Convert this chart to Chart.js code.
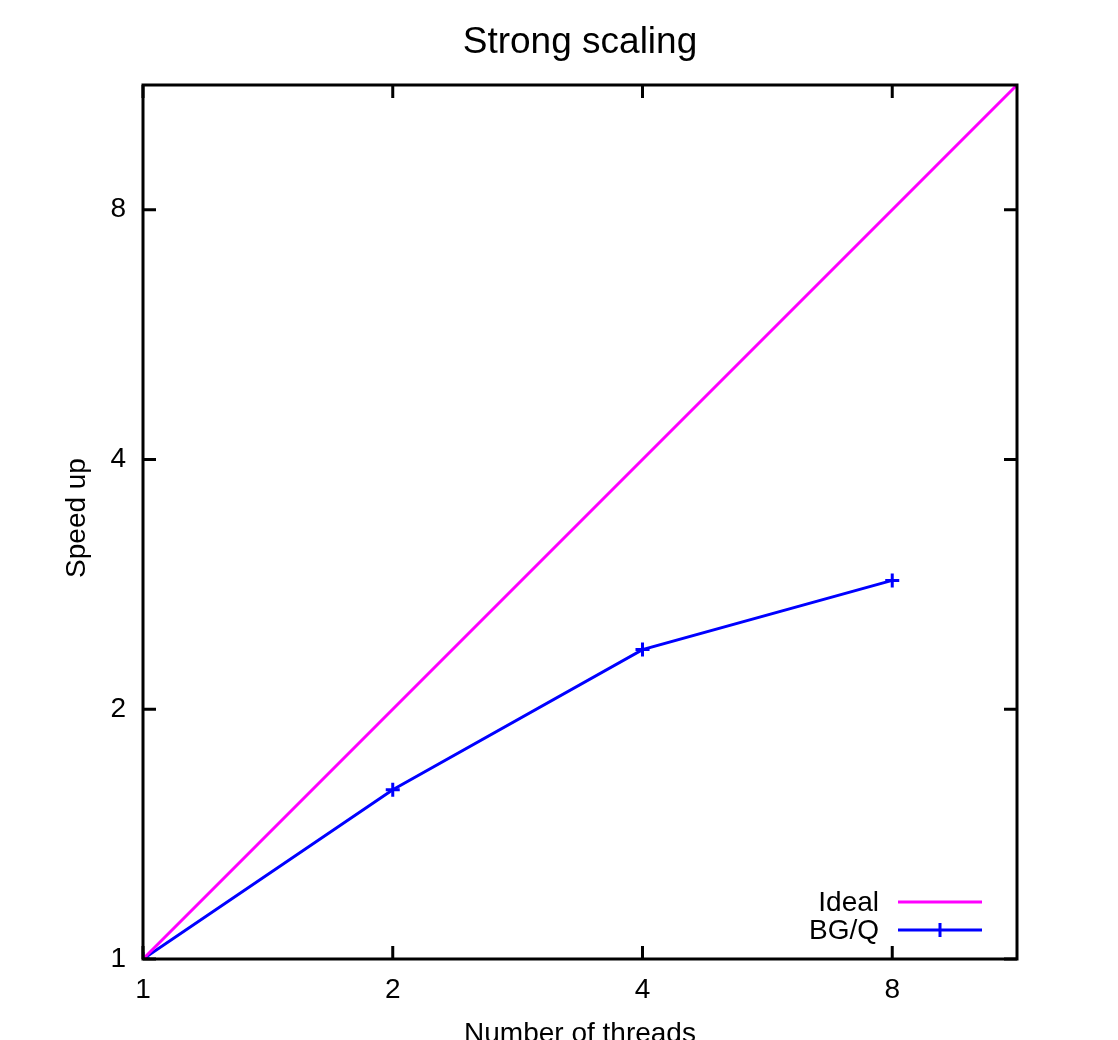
<!DOCTYPE html>
<html lang="en">
<head>
  <meta charset="UTF-8">
  <title>Strong scaling</title>
  <script src="https://cdn.jsdelivr.net/npm/chart.js"></script>
  <style>
    body {
      margin: 0;
      background: white;
    }

    .wrap {
      width: 1118px;
      height: 1040px;
      position: relative;
    }
  </style>
</head>
<body>

  <div class="wrap">
    <canvas id="scalingChart"></canvas>
  </div>

  <script>
    const threads = [1, 2, 4, 8];
    const bgqSpeedup = [1, 1.60, 2.36, 2.86];
    const idealThreads = [1, 2, 4, 8, 11.31];
    const idealSpeedup = [1, 2, 4, 8, 11.31];
    const tickValues = [1, 2, 4, 8];
    const axisMax = 11.31;

    const FONT = "'Liberation Sans', Arial, Helvetica, sans-serif";

    // gnuplot style frame, mirrored inward ticks, titles and legend
    const gnuplotLook = {
      id: 'gnuplotLook',
      afterDraw(chart) {
        const ctx = chart.ctx;
        const a = chart.chartArea;
        const xs = chart.scales.x;
        const ys = chart.scales.y;
        const tick = 13;

        ctx.save();
        ctx.strokeStyle = '#000';
        ctx.lineWidth = 3;
        ctx.strokeRect(a.left, a.top, a.right - a.left, a.bottom - a.top);

        ctx.beginPath();
        tickValues.forEach(v => {
          const px = xs.getPixelForValue(v);
          ctx.moveTo(px, a.bottom); ctx.lineTo(px, a.bottom - tick);
          ctx.moveTo(px, a.top); ctx.lineTo(px, a.top + tick);
          const py = ys.getPixelForValue(v);
          ctx.moveTo(a.left, py); ctx.lineTo(a.left + tick, py);
          ctx.moveTo(a.right, py); ctx.lineTo(a.right - tick, py);
        });
        ctx.stroke();

        ctx.fillStyle = '#000';
        ctx.textBaseline = 'alphabetic';

        // title
        ctx.font = '37px ' + FONT;
        ctx.textAlign = 'center';
        ctx.fillText('Strong scaling', (a.left + a.right) / 2, 53);

        // x axis title
        ctx.font = '28px ' + FONT;
        ctx.fillText('Number of threads', (a.left + a.right) / 2, 1042);

        // y axis title
        ctx.save();
        ctx.translate(85, 518);
        ctx.rotate(-Math.PI / 2);
        ctx.fillText('Speed up', 0, 0);
        ctx.restore();

        // legend
        ctx.textAlign = 'right';
        ctx.textBaseline = 'middle';
        chart.data.datasets.forEach((ds, i) => {
          const y = 902 + i * 28;
          ctx.fillStyle = '#000';
          ctx.fillText(ds.label, 879, y + 1);
          ctx.strokeStyle = ds.borderColor;
          ctx.lineWidth = 3;
          ctx.beginPath();
          ctx.moveTo(898, y); ctx.lineTo(982, y);
          if (ds.pointRadius > 0) {
            ctx.moveTo(940, y - 7); ctx.lineTo(940, y + 7);
          }
          ctx.stroke();
        });
        ctx.restore();
      }
    };

    const ctx = document.getElementById('scalingChart').getContext('2d');
    new Chart(ctx, {
      type: 'line',
      data: {
        datasets: [
          {
            label: 'Ideal',
            data: idealThreads.map((x, i) => ({ x: x, y: idealSpeedup[i] })),
            borderColor: '#ff00ff',
            borderWidth: 3,
            pointRadius: 0,
            tension: 0
          },
          {
            label: 'BG/Q',
            data: threads.map((x, i) => ({ x: x, y: bgqSpeedup[i] })),
            borderColor: '#0000ff',
            backgroundColor: '#0000ff',
            borderWidth: 3,
            pointStyle: 'cross',
            pointRadius: 7,
            pointBorderWidth: 3,
            tension: 0
          }
        ]
      },
      options: {
        responsive: true,
        maintainAspectRatio: false,
        animation: false,
        layout: {
          padding: { top: 85, right: 101, left: 0, bottom: 0 }
        },
        plugins: {
          legend: { display: false },
          title: { display: false },
          tooltip: { enabled: false }
        },
        scales: {
          x: {
            type: 'logarithmic',
            min: 1,
            max: axisMax,
            grid: { display: false, drawTicks: false },
            border: { display: false },
            afterBuildTicks: s => { s.ticks = tickValues.map(v => ({ value: v })); },
            afterFit: s => { s.height = 81; },
            ticks: {
              autoSkip: false,
              maxRotation: 0,
              padding: 14,
              color: '#000',
              font: { size: 28, family: FONT },
              callback: v => String(v)
            }
          },
          y: {
            type: 'logarithmic',
            min: 1,
            max: axisMax,
            grid: { display: false, drawTicks: false },
            border: { display: false },
            afterBuildTicks: s => { s.ticks = tickValues.map(v => ({ value: v })); },
            afterFit: s => { s.width = 143; },
            ticks: {
              autoSkip: false,
              padding: 17,
              color: '#000',
              font: { size: 28, family: FONT },
              callback: v => String(v)
            }
          }
        }
      },
      plugins: [gnuplotLook]
    });
  </script>

</body>
</html>
